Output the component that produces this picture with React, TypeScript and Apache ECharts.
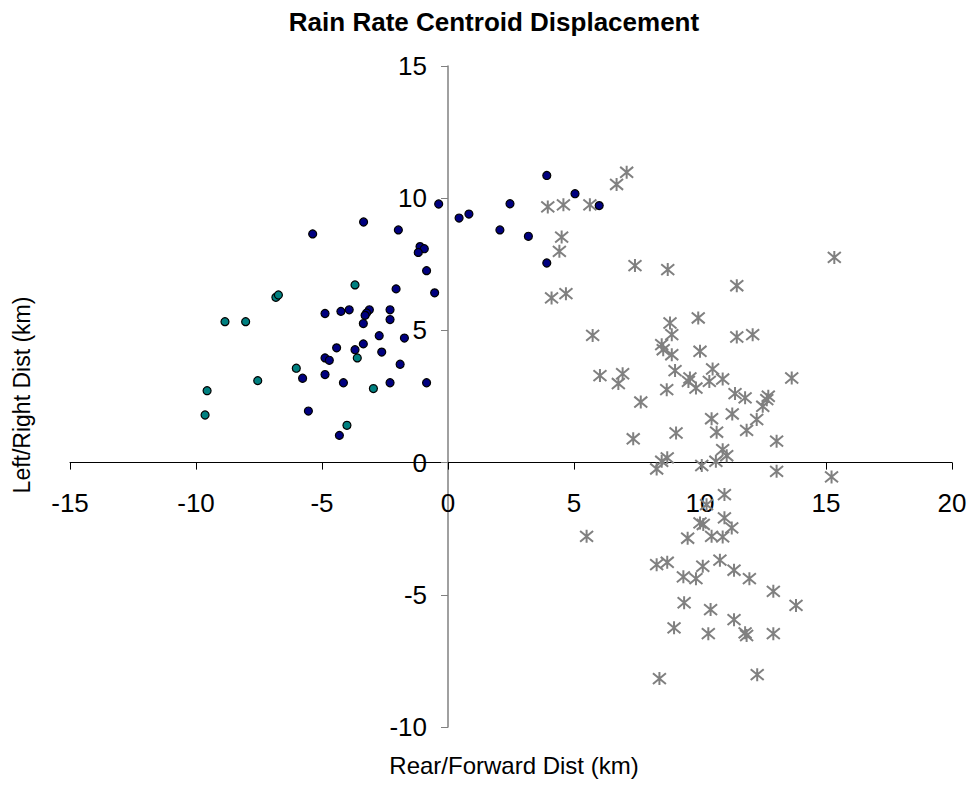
import React, { useEffect, useRef } from "react";
import * as echarts from "echarts";

const chartTitle = "Rain Rate Centroid Displacement";
const xAxisTitle = "Rear/Forward Dist (km)";
const yAxisTitle = "Left/Right Dist (km)";

const xMin = -15;
const xMax = 20;
const xStep = 5;
const yMin = -10;
const yMax = 15;
const yStep = 5;

// Navy circles
const navyPoints: [number, number][] = [
  [-0.85, 7.26], [-0.53, 6.42], [-2.06, 6.57], [-4.88, 5.64], [-4.25, 5.72],
  [-3.92, 5.78], [-3.12, 5.78], [-3.23, 5.66], [-3.29, 5.57], [-2.3, 5.78],
  [-2.3, 5.41], [-3.36, 5.26], [-2.73, 4.8], [-1.73, 4.71], [-4.42, 4.34],
  [-3.69, 4.27], [-3.36, 4.49], [-2.63, 4.18], [-4.88, 3.96], [-4.71, 3.87],
  [-1.9, 3.72], [-5.77, 3.19], [-4.88, 3.33], [-4.15, 3.02], [-2.3, 3.02],
  [-0.85, 3.02], [-5.54, 1.95], [-4.31, 1.03],
  [-0.37, 9.78], [-1.97, 8.8], [-1.11, 8.17], [-0.94, 8.09], [-1.18, 7.95],
  [0.44, 9.25], [0.83, 9.4], [2.06, 8.8], [3.19, 8.56], [2.46, 9.79],
  [3.92, 10.86], [5.04, 10.17], [6.0, 9.72], [3.92, 7.55], [-5.37, 8.65],
  [-3.35, 9.1],
];

// Teal circles
const tealPoints: [number, number][] = [
  [-3.69, 6.72], [-6.83, 6.25], [-6.73, 6.34], [-8.85, 5.33], [-8.03, 5.33],
  [-7.55, 3.1], [-6.02, 3.57], [-3.6, 3.96], [-2.96, 2.8], [-9.56, 2.72],
  [-9.64, 1.8], [-4.01, 1.41],
];

// Gray asterisks
const grayPoints: [number, number][] = [
  [7.09, 10.98], [6.69, 10.52], [3.96, 9.67], [4.58, 9.75], [5.63, 9.75],
  [4.51, 8.53], [4.42, 7.99], [7.42, 7.45], [8.72, 7.3], [11.46, 6.69],
  [15.33, 7.76], [4.11, 6.23], [4.68, 6.39],
  [9.93, 5.47], [8.81, 5.28], [8.88, 4.84], [5.74, 4.81], [11.46, 4.75],
  [12.09, 4.84], [8.48, 4.46], [8.54, 4.27], [8.88, 4.08], [10.0, 4.21],
  [9.01, 3.48], [10.5, 3.54], [6.03, 3.29], [6.93, 3.36], [6.76, 2.99],
  [9.6, 3.2], [9.54, 3.07], [9.84, 2.82], [10.37, 3.07], [10.9, 3.16],
  [13.64, 3.2], [8.68, 2.76], [11.39, 2.61], [11.79, 2.45], [12.71, 2.51],
  [12.65, 2.38], [12.49, 2.13], [7.65, 2.29], [11.28, 1.84], [10.46, 1.66],
  [12.25, 1.63], [11.85, 1.22], [10.66, 1.15], [9.05, 1.12], [7.35, 0.9],
  [13.04, 0.81],
  [8.28, -0.24], [8.48, 0.05], [8.7, 0.18], [10.07, -0.11], [10.63, 0.05],
  [10.9, 0.49], [11.06, 0.26], [13.04, -0.33], [15.22, -0.54],
  [10.97, -1.21], [10.26, -1.59], [10.97, -2.09], [11.26, -2.47], [10.0, -2.28],
  [10.13, -2.34], [10.46, -2.79], [10.9, -2.81], [9.51, -2.86], [5.5, -2.79],
  [8.28, -3.86], [8.7, -3.77], [10.11, -3.92], [10.79, -3.69], [11.35, -4.07],
  [11.96, -4.39], [9.34, -4.32], [9.84, -4.39], [12.91, -4.87], [13.81, -5.4],
  [9.37, -5.3], [10.42, -5.56], [11.35, -5.94], [8.97, -6.25], [10.33, -6.47],
  [11.79, -6.44], [11.85, -6.54], [12.91, -6.47], [8.39, -8.17], [12.27, -8.02],
];

const FONT = '"Liberation Sans", Arial, Helvetica, sans-serif';
const asteriskPath = "path://M6,0 L6,12 M1,1 L11,11 M1,11 L11,1";

// grid geometry
const GRID_LEFT = 70;
const GRID_RIGHT = 22;
const GRID_TOP = 66;
const GRID_BOTTOM = 61;
const CHART_W = 974;
const CHART_H = 788;

export default function App() {
  const ref = useRef<HTMLDivElement>(null);

  useEffect(() => {
    if (!ref.current) return;
    const chart = echarts.init(ref.current, undefined, { renderer: "svg" });
    const gridW = CHART_W - GRID_LEFT - GRID_RIGHT;
    const gridH = CHART_H - GRID_TOP - GRID_BOTTOM;
    // place the axes through the origin using offsets
    const xZeroFromBottom = ((0 - yMin) / (yMax - yMin)) * gridH;
    const yZeroFromLeft = ((0 - xMin) / (xMax - xMin)) * gridW;
    chart.setOption({
      animation: false,
      backgroundColor: "#ffffff",
      textStyle: { fontFamily: FONT },
      grid: {
        left: GRID_LEFT,
        right: GRID_RIGHT,
        top: GRID_TOP,
        bottom: GRID_BOTTOM,
        containLabel: false,
        outerBoundsMode: "none",
      },
      xAxis: {
        type: "value",
        position: "bottom",
        offset: -xZeroFromBottom,
        min: xMin,
        max: xMax,
        interval: xStep,
        axisLine: { onZero: false, lineStyle: { color: "#000000", width: 1 } },
        axisTick: { show: true, inside: false, length: 7, lineStyle: { color: "#000000" } },
        axisLabel: { fontSize: 26, color: "#000000", margin: 27, fontFamily: FONT },
        splitLine: { show: false },
      },
      yAxis: {
        type: "value",
        position: "left",
        offset: -yZeroFromLeft,
        min: yMin,
        max: yMax,
        interval: yStep,
        axisLine: { onZero: false, lineStyle: { color: "#808080", width: 1.5 } },
        axisTick: { show: true, inside: false, length: 7, lineStyle: { color: "#808080" } },
        axisLabel: { fontSize: 26, color: "#000000", margin: 21, fontFamily: FONT },
        splitLine: { show: false },
      },
      graphic: [
        {
          type: "text",
          x: 494,
          y: 22,
          style: {
            text: chartTitle,
            fontSize: 26,
            fontWeight: "bold",
            fontFamily: FONT,
            fill: "#000000",
            align: "center",
            verticalAlign: "middle",
          },
        },
        {
          type: "text",
          x: 514,
          y: 765,
          style: {
            text: xAxisTitle,
            fontSize: 24,
            fontFamily: FONT,
            fill: "#000000",
            align: "center",
            verticalAlign: "middle",
          },
        },
        {
          type: "text",
          x: 22,
          y: 395,
          rotation: Math.PI / 2,
          style: {
            text: yAxisTitle,
            fontSize: 23,
            fontFamily: FONT,
            fill: "#000000",
            align: "center",
            verticalAlign: "middle",
          },
        },
      ],
      series: [
        {
          type: "scatter",
          name: "Forward",
          data: grayPoints,
          symbol: asteriskPath,
          symbolSize: 13,
          itemStyle: {
            color: "rgba(0,0,0,0)",
            borderColor: "#808080",
            borderWidth: 2,
            opacity: 1,
          },
          z: 2,
        },
        {
          type: "scatter",
          name: "Rear",
          data: navyPoints,
          symbol: "circle",
          symbolSize: 8,
          itemStyle: { color: "#000080", borderColor: "#000000", borderWidth: 1.2, opacity: 1 },
          z: 3,
        },
        {
          type: "scatter",
          name: "Rear (teal)",
          data: tealPoints,
          symbol: "circle",
          symbolSize: 8,
          itemStyle: { color: "#008080", borderColor: "#000000", borderWidth: 1.2, opacity: 1 },
          z: 3,
        },
      ],
    });
    return () => chart.dispose();
  }, []);

  return (
    <div
      ref={ref}
      style={{ position: "fixed", left: 0, top: 0, width: CHART_W, height: CHART_H, background: "#fff" }}
    />
  );
}
